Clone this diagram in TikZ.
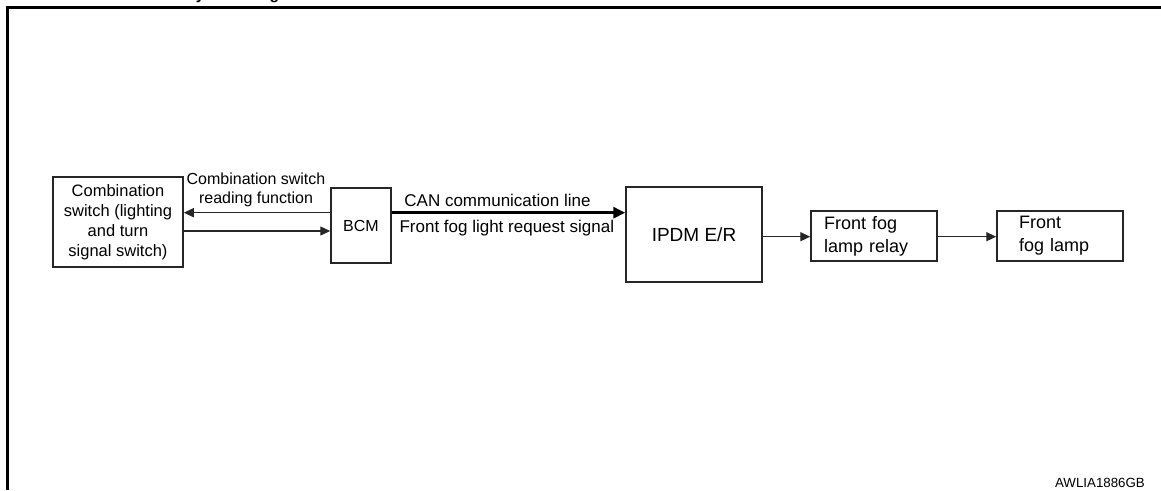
\documentclass[tikz,border=0pt]{standalone}
\usepackage{fontspec}
\setmainfont{Liberation Sans}
\usetikzlibrary{arrows.meta}

\tikzset{
  box/.style={draw=black!85, line width=1.5pt, inner sep=0pt, align=center},
  conn/.style={draw=black!85, line width=1.4pt, -{Triangle[length=10pt,width=9pt]}},
  canline/.style={draw=black, line width=3.4pt, -{Triangle[length=12pt,width=11pt]}},
  lbl/.style={inner sep=0pt, align=center},
  frame/.style={line width=3pt}
}

\begin{document}
\begin{tikzpicture}[x=1pt,y=-1pt]
  \useasboundingbox (0,0) rectangle (1161,490);

  % sheet title (only its descenders fall inside the page)
  \node[inner sep=0pt, anchor=base west, font=\bfseries\fontsize{15.6}{18}\selectfont] (title) at (185.3,-0.4) {System Diagram};

  % page frame
  \draw[frame] (7.3,490) -- (7.3,7.8) -- (1161,7.8);

  % blocks
  \node[box, minimum width=130pt, minimum height=90pt,
        font=\fontsize{16.5}{20}\selectfont] (combo) at (118,222)
        {Combination\\switch (lighting\\and turn\\signal switch)};
  \node[box, minimum width=60pt, minimum height=75pt,
        font=\fontsize{16}{19}\selectfont] (bcm) at (361,225.5) {BCM};
  \node[box, minimum width=136pt, minimum height=95pt,
        font=\fontsize{19}{22}\selectfont] (ipdm) at (694,234.5) {IPDM E/R};
  \node[box, minimum width=126pt, minimum height=50pt, align=left,
        text width=100pt, inner xsep=13pt,
        font=\fontsize{18}{23}\selectfont] (relay) at (874,236) {Front fog\\lamp relay};
  \node[box, minimum width=126pt, minimum height=50pt, align=left,
        text width=82pt, inner xsep=22pt,
        font=\fontsize{18}{23}\selectfont] (lamp) at (1060,236) {Front\\fog lamp};

  % connectors
  \draw[conn] (bcm.west |- 0,212.7) -- (combo.east |- 0,212.7);
  \draw[conn] (combo.east |- 0,231) -- (bcm.west |- 0,231);
  \draw[canline] (bcm.east |- 0,212.7) -- (ipdm.west |- 0,212.7);
  \draw[conn] (ipdm.east |- 0,236.7) -- (relay.west |- 0,236.7);
  \draw[conn] (relay.east |- 0,236.7) -- (lamp.west |- 0,236.7);

  % connector labels
  \node[lbl, font=\fontsize{16}{18.6}\selectfont] (readlbl) at (256,190)
        {Combination switch\\reading function};
  \node[lbl, font=\fontsize{17}{20}\selectfont] (canlbl) at (497.5,200.7) {CAN communication line};
  \node[lbl, font=\fontsize{17}{20}\selectfont] (siglbl) at (506.8,228.3) {Front fog light request signal};

  % drawing code
  \node[inner sep=0pt, anchor=east, font=\fontsize{13.3}{15}\selectfont] (code) at (1145,483) {AWLIA1886GB};
\end{tikzpicture}
\end{document}
